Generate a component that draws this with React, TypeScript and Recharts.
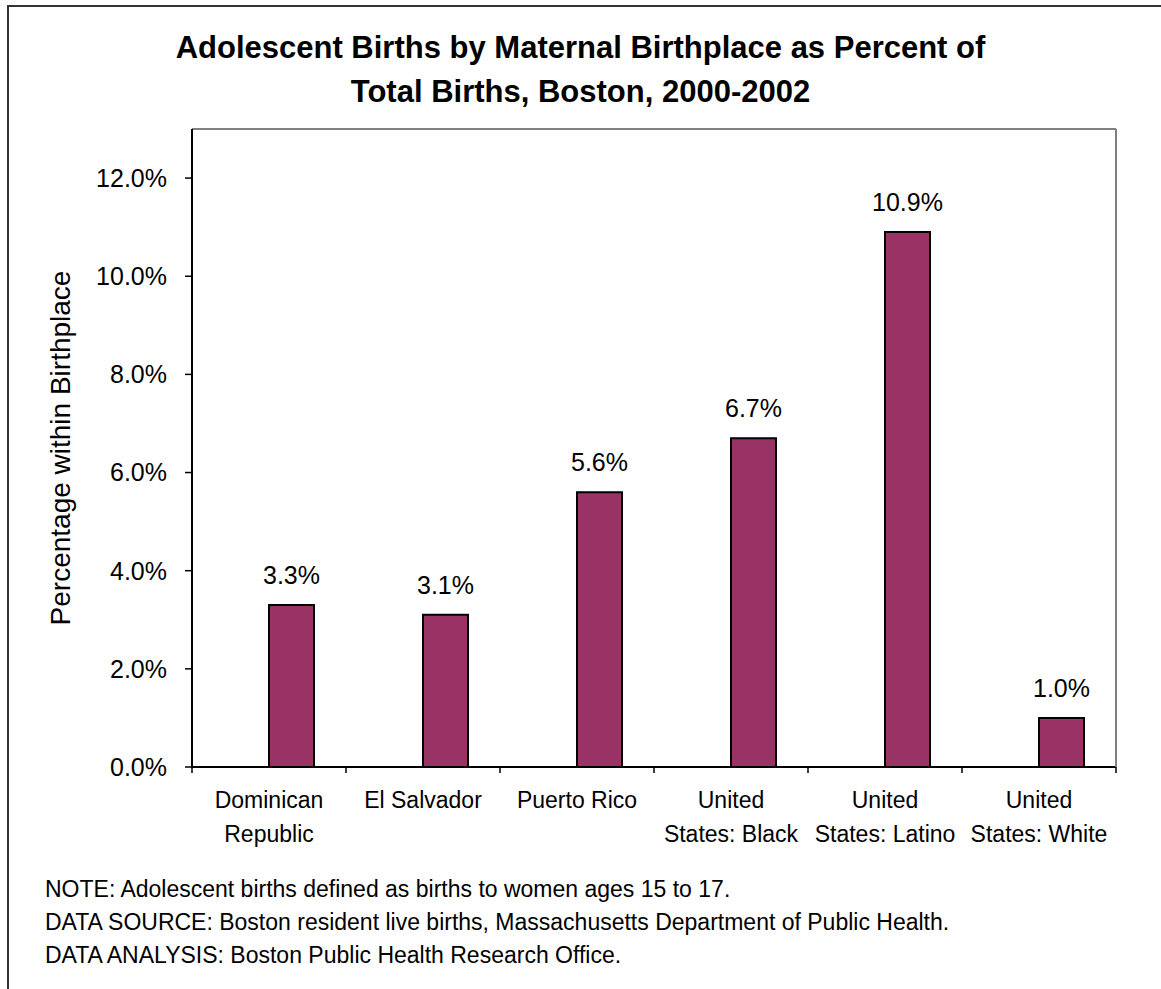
import { BarChart, Bar, XAxis, YAxis, LabelList, ReferenceLine } from "recharts";

const categories = [
  "Dominican\nRepublic",
  "El Salvador",
  "Puerto Rico",
  "United\nStates: Black",
  "United\nStates: Latino",
  "United\nStates: White",
];
const adolescentShare = [3.3, 3.1, 5.6, 6.7, 10.9, 1.0];
const yTicks = [0, 2, 4, 6, 8, 10, 12];

const titleLines = [
  "Adolescent Births by Maternal Birthplace as Percent of",
  "Total Births, Boston, 2000-2002",
];
const notes = [
  "NOTE: Adolescent births defined as births to women ages 15 to 17.",
  "DATA SOURCE: Boston resident live births, Massachusetts Department of Public Health.",
  "DATA ANALYSIS: Boston Public Health Research Office.",
];

const data = categories.map((name, i) => ({ name, share: adolescentShare[i] }));

const FONT = '"Liberation Sans", Arial, Helvetica, sans-serif';

// category label plus the tick marks that Excel puts between categories
function CategoryTick({ x, y, payload, index, visibleTicksCount }: any) {
  const lines = String(payload.value).split("\n");
  const half = payload.offset ?? 77;
  const isLast = index === visibleTicksCount - 1;
  return (
    <g>
      <line x1={x - half} x2={x - half} y1={y} y2={y + 6} stroke="#000" strokeWidth={1.5} />
      {isLast && <line x1={x + half} x2={x + half} y1={y} y2={y + 6} stroke="#000" strokeWidth={1.5} />}
      <text x={x} y={y} textAnchor="middle" fontSize={23} fill="#000" fontFamily={FONT}>
        {lines.map((line, i) => (
          <tspan key={i} x={x} dy={i === 0 ? 41 : 34}>
            {line}
          </tspan>
        ))}
      </text>
    </g>
  );
}

function YTitle({ viewBox }: any) {
  const cy = viewBox.y + viewBox.height / 2;
  return (
    <text
      x={60}
      y={cy}
      transform={`rotate(-90 60 ${cy})`}
      textAnchor="middle"
      dominantBaseline="central"
      fontSize={28}
      fill="#000"
      fontFamily={FONT}
    >
      Percentage within Birthplace
    </text>
  );
}

export default function App() {
  return (
    <div
      style={{
        position: "absolute",
        left: 0,
        top: 0,
        width: 1161,
        height: 989,
        overflow: "hidden",
        background: "#fff",
        fontFamily: FONT,
      }}
    >
      <div
        style={{
          position: "absolute",
          left: 7,
          top: 5,
          width: 1200,
          height: 1100,
          borderLeft: "2px solid #333",
          borderTop: "2px solid #333",
        }}
      />
      <BarChart
        width={1161}
        height={989}
        data={data}
        margin={{ top: 129, right: 44, left: 0, bottom: 221 }}
        barCategoryGap={32}
        barGap={0}
        style={{ position: "absolute", left: 0, top: 0 }}
      >
        <XAxis
          dataKey="name"
          height={1}
          interval={0}
          tickSize={0}
          tickMargin={0}
          axisLine={{ stroke: "#000", strokeWidth: 2 }}
          tickLine={false}
          tick={<CategoryTick />}
        />
        <YAxis
          width={192}
          domain={[0, 13]}
          ticks={yTicks}
          interval={0}
          tickSize={7}
          tickMargin={18}
          tickFormatter={(v: number) => `${v.toFixed(1)}%`}
          tick={{ fontSize: 25, fill: "#000", fontFamily: FONT }}
          axisLine={{ stroke: "#000", strokeWidth: 2 }}
          tickLine={{ stroke: "#000", strokeWidth: 1.5 }}
          label={{ content: YTitle }}
        />
        <YAxis
          yAxisId="frame"
          orientation="right"
          width={1}
          domain={[0, 13]}
          tick={false}
          tickLine={false}
          axisLine={{ stroke: "#808080", strokeWidth: 2 }}
        />
        <ReferenceLine y={13} stroke="#808080" strokeWidth={2} />
        <Bar dataKey="unused" fill="none" legendType="none" isAnimationActive={false} />
        <Bar dataKey="share" fill="#993366" stroke="#000" strokeWidth={2} isAnimationActive={false}>
          <LabelList
            dataKey="share"
            position="top"
            offset={21}
            formatter={(v: any) => `${Number(v).toFixed(1)}%`}
            style={{ fontSize: 25, fill: "#000", fontFamily: FONT }}
          />
        </Bar>
      </BarChart>
      <div
        style={{
          position: "absolute",
          left: 0,
          top: 26,
          width: 1161,
          textAlign: "center",
          fontWeight: "bold",
          fontSize: 31,
          lineHeight: "44px",
          color: "#000",
        }}
      >
        {titleLines.map((t) => (
          <div key={t}>{t}</div>
        ))}
      </div>
      <div
        style={{
          position: "absolute",
          left: 45,
          top: 873,
          fontSize: 23,
          lineHeight: "33px",
          color: "#000",
        }}
      >
        {notes.map((t) => (
          <div key={t}>{t}</div>
        ))}
      </div>
    </div>
  );
}
